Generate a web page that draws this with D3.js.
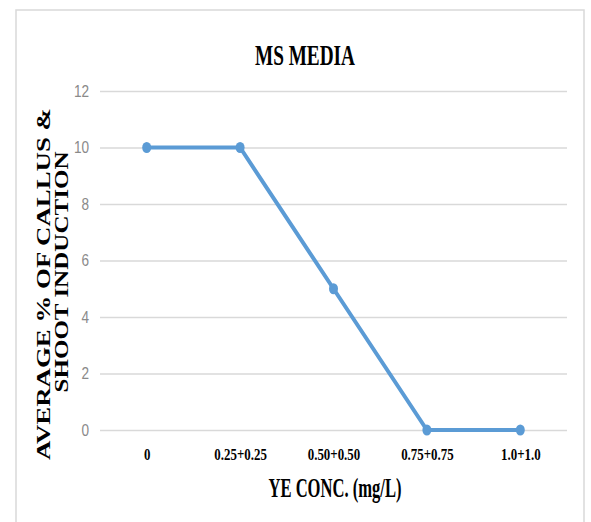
<!DOCTYPE html>
<html>
<head>
<meta charset="utf-8">
<script src="https://cdn.jsdelivr.net/npm/d3@7"></script>
<style>
  body { margin: 0; background: #fff; }
  svg { display: block; }
</style>
</head>
<body>
<div id="graf"></div>
<script>
// datos del grafico
const categorias = ['0', '0.25+0.25', '0.50+0.50', '0.75+0.75', '1.0+1.0']
const promedio = [10, 10, 5, 0, 0]
const yTicks = [0, 2, 4, 6, 8, 10, 12]
const titulo = 'MS MEDIA'
const tituloX = 'YE CONC. (mg/L)'
const tituloY = ['AVERAGE % OF CALLUS &', 'SHOOT INDUCTION']

const ancho_total = 591
const alto_total = 522
const margins = { top: 91, left: 100, right: 24, bottom: 92 }
const ancho = ancho_total - margins.left - margins.right
const alto = alto_total - margins.top - margins.bottom

const svg = d3.select('#graf').append('svg')
  .attr('width', ancho_total)
  .attr('height', alto_total)

// marco del area del grafico
svg.append('rect')
  .attr('x', 16).attr('y', 10)
  .attr('width', 568).attr('height', 530)
  .attr('fill', 'none')
  .attr('stroke', '#d9d9d9')
  .attr('stroke-width', 1.5)

const g = svg.append('g')
  .attr('transform', `translate(${margins.left}, ${margins.top})`)

// escalas
const y = d3.scaleLinear().domain([0, 12]).range([alto, 0])
const x = d3.scalePoint().domain(categorias).range([0, ancho]).padding(0.5)

// eje y con lineas de grilla
const yAxisGroup = g.append('g')
  .call(d3.axisLeft(y).tickValues(yTicks).tickSize(-ancho).tickPadding(11))
yAxisGroup.select('.domain').remove()
yAxisGroup.selectAll('line')
  .attr('stroke', '#d9d9d9')
  .attr('stroke-width', 1.5)
yAxisGroup.selectAll('text')
  .attr('fill', '#8a8a8a')
  .style('font-family', '"Liberation Sans", Arial, sans-serif')
  .style('font-size', '16px')
  .attr('x', -11 / 0.85)
  .attr('transform', 'scale(0.85,1)')

// eje x (solo etiquetas)
const xAxisGroup = g.append('g')
  .attr('transform', `translate(0, ${alto})`)
  .call(d3.axisBottom(x).tickSize(0).tickPadding(0))
xAxisGroup.select('.domain').remove()
xAxisGroup.selectAll('text')
  .attr('y', 0)
  .attr('dy', 0)
  .attr('transform', 'translate(0,30) scale(0.76,1)')
  .attr('fill', '#000')
  .style('font-family', '"Liberation Serif", "Times New Roman", serif')
  .style('font-weight', 'bold')
  .style('font-size', '17px')

// linea
const linea = d3.line()
  .x((d, i) => x(categorias[i]))
  .y(d => y(d))

g.append('path')
  .datum(promedio)
  .attr('d', linea)
  .attr('fill', 'none')
  .attr('stroke', '#5b9bd5')
  .attr('stroke-width', 4)
  .attr('stroke-linejoin', 'round')

g.selectAll('.punto')
  .data(promedio)
  .enter()
  .append('ellipse')
  .attr('class', 'punto')
  .attr('cx', (d, i) => x(categorias[i]))
  .attr('cy', d => y(d))
  .attr('rx', 4.5)
  .attr('ry', 5.5)
  .attr('fill', '#5b9bd5')

// titulos
svg.append('text')
  .attr('x', 305).attr('y', 65)
  .attr('text-anchor', 'middle')
  .attr('textLength', 100)
  .attr('lengthAdjust', 'spacingAndGlyphs')
  .style('font-family', '"Liberation Serif", "Times New Roman", serif')
  .style('font-weight', 'bold')
  .style('font-size', '29px')
  .text(titulo)

svg.append('text')
  .attr('x', 335).attr('y', 497)
  .attr('text-anchor', 'middle')
  .attr('textLength', 133)
  .attr('lengthAdjust', 'spacingAndGlyphs')
  .style('font-family', '"Liberation Serif", "Times New Roman", serif')
  .style('font-weight', 'bold')
  .style('font-size', '28px')
  .text(tituloX)

const yTit = [
  { cx: 50, cy: 284, largo: 352 },
  { cx: 68, cy: 272, largo: 241 }
]
svg.selectAll('.titY')
  .data(tituloY)
  .enter()
  .append('text')
  .attr('class', 'titY')
  .attr('transform', (d, i) => `translate(${yTit[i].cx}, ${yTit[i].cy}) rotate(-90)`)
  .attr('text-anchor', 'middle')
  .attr('textLength', (d, i) => yTit[i].largo)
  .attr('lengthAdjust', 'spacingAndGlyphs')
  .style('font-family', '"Liberation Serif", "Times New Roman", serif')
  .style('font-weight', 'bold')
  .style('font-size', '19px')
  .text(d => d)
</script>
</body>
</html>
